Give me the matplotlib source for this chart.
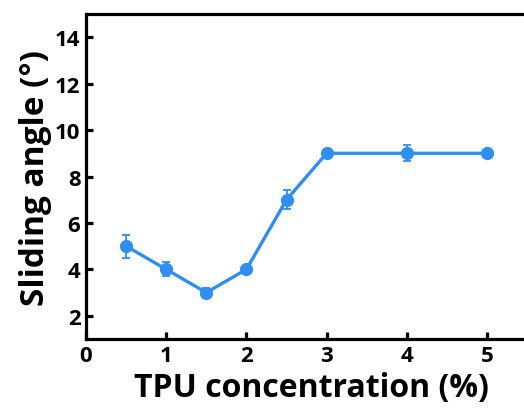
import numpy as np
import matplotlib as mlt
mlt.use('Agg')
from matplotlib import pyplot as plt

# TPU concentration (%) vs sliding angle (deg)
conc  = [0.5, 1, 1.5, 2, 2.5, 3, 4, 5]
angle = [5, 4, 3, 4, 7, 9, 9, 9]
err   = [0.5, 0.3, 0.2, 0.1, 0.4, 0.2, 0.35, 0.1]

plt.rcParams['font.family'] = ['Open Sans', 'DejaVu Sans']
plt.rcParams['font.weight'] = 'bold'

fig = plt.figure(figsize=(5.24, 4.14), dpi=100)
ax = fig.add_axes([86/524, 74/414, 450/524, 325/414])

col = '#2f8ff0'
ax.errorbar(conc, angle, yerr=err, color=col, linewidth=2.4, marker='o',
            markersize=8.5, capsize=3, elinewidth=1.3, capthick=1.3)

ax.set_xlim(0, 5.61)
ax.set_ylim(1, 15)
ax.set_xticks([0, 1, 2, 3, 4, 5])
ax.set_yticks([2, 4, 6, 8, 10, 12, 14])
for s in ax.spines.values():
    s.set_linewidth(2.3)
ax.tick_params(direction='in', length=5, width=2.3, labelsize=16, pad=4)
for lab in ax.get_xticklabels() + ax.get_yticklabels():
    lab.set_fontweight('bold')

ax.set_xlabel("TPU concentration (%)", fontsize=23, fontweight='bold', labelpad=4)
ax.set_ylabel("Sliding angle (°)", fontsize=24, fontweight='bold', labelpad=2)

plt.savefig('out.png', dpi=100)
